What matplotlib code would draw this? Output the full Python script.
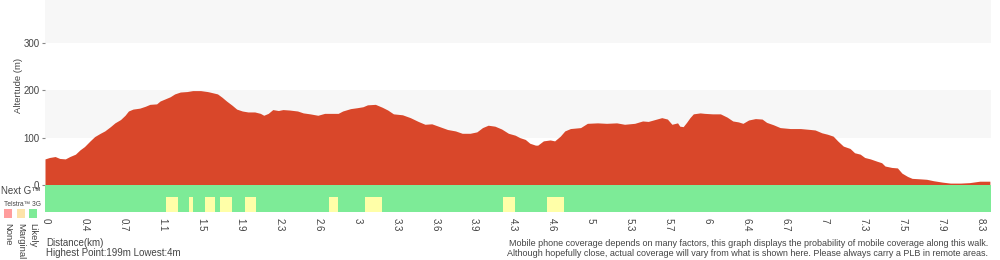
import numpy as np
import matplotlib
matplotlib.use("Agg")
import matplotlib.pyplot as plt
from matplotlib.patches import Rectangle

plt.rcParams['font.family'] = ['Liberation Sans', 'DejaVu Sans']

# ---------------- data ----------------
distance_km = [0.00, 0.04, 0.09, 0.13, 0.18, 0.22, 0.27, 0.31, 0.35, 0.40,
               0.44, 0.49, 0.53, 0.58, 0.62, 0.67, 0.71, 0.74, 0.78, 0.84,
               0.89, 0.93, 0.99, 1.02, 1.06, 1.11, 1.15, 1.20, 1.26, 1.31,
               1.38, 1.44, 1.46, 1.53, 1.57, 1.61, 1.66, 1.70, 1.75, 1.80,
               1.86, 1.91, 1.94, 1.98, 2.02, 2.07, 2.11, 2.17, 2.24, 2.29,
               2.35, 2.42, 2.48, 2.55, 2.60, 2.64, 2.71, 2.77, 2.82, 2.86,
               2.93, 2.99, 3.04, 3.09, 3.17, 3.24, 3.31, 3.37, 3.43, 3.50,
               3.57, 3.64, 3.70, 3.77, 3.83, 3.88, 3.93, 3.99, 4.05, 4.11,
               4.17, 4.21, 4.26, 4.30, 4.35, 4.37, 4.42, 4.48, 4.52, 4.57,
               4.61, 4.66, 4.75, 4.81, 4.90, 4.98, 5.07, 5.14, 5.23, 5.30,
               5.35, 5.41, 5.47, 5.52, 5.56, 5.61, 5.63, 5.66, 5.69, 5.72,
               5.75, 5.81, 5.85, 5.92, 5.99, 6.05, 6.10, 6.15, 6.19, 6.24,
               6.30, 6.36, 6.40, 6.46, 6.52, 6.61, 6.70, 6.79, 6.83, 6.89,
               6.94, 6.99, 7.03, 7.08, 7.14, 7.18, 7.23, 7.27, 7.32, 7.38,
               7.42, 7.45, 7.51, 7.56, 7.60, 7.65, 7.69, 7.76, 7.82, 7.88,
               7.96, 8.03, 8.12, 8.20, 8.29, 8.38]

elevation_m = [55, 58, 60, 56, 55, 60, 65, 74, 81, 93,
               102, 109, 114, 123, 131, 138, 147, 156, 160, 162,
               166, 170, 171, 177, 181, 186, 192, 196, 197, 199,
               199, 197, 196, 192, 185, 177, 168, 160, 156, 154,
               154, 151, 147, 151, 159, 157, 159, 158, 156, 152,
               150, 147, 151, 151, 151, 156, 161, 163, 165, 169,
               170, 164, 158, 150, 148, 142, 134, 128, 129, 123,
               117, 114, 109, 109, 112, 121, 126, 124, 118, 109,
               105, 100, 96, 88, 84, 84, 93, 95, 93, 103,
               114, 119, 121, 130, 131, 130, 131, 128, 130, 135,
               134, 138, 142, 139, 128, 131, 124, 123, 132, 142,
               150, 152, 151, 150, 150, 143, 135, 133, 130, 137,
               140, 139, 132, 127, 121, 119, 119, 117, 116, 110,
               107, 103, 93, 82, 77, 68, 65, 58, 55, 50,
               47, 40, 37, 36, 25, 18, 14, 13, 12, 9,
               6, 4, 4, 5, 8, 8]

# Telstra 3G "Marginal" stretches (start km, end km); rest is "Likely"
marginal_start_km = [1.07, 1.28, 1.42, 1.55, 1.77, 2.52, 2.84, 4.06, 4.45]
marginal_end_km   = [1.18, 1.31, 1.51, 1.66, 1.87, 2.60, 2.99, 4.17, 4.60]

tick_labels = ['0', '0.4', '0.7', '1.1', '1.5', '1.9', '2.3', '2.6', '3', '3.3',
               '3.6', '3.9', '4.3', '4.6', '5', '5.3', '5.7', '6', '6.4', '6.7',
               '7', '7.3', '7.5', '7.9', '8.3']

y_ticks = [0, 100, 200, 300]
legend_names = ['None', 'Marginal', 'Likely']
highest_m = 199
lowest_m = 4

# ---------------- style ----------------
RED = '#d9472a'
GREEN = '#7deb97'
YELLOW = '#ffffa8'
BAND = '#f7f7f7'
TXT = '#444444'
legend_colors = ['#ff9d9d', '#fde3a9', '#7deb97']
TOTAL_KM = 8.39
TICK_STEP = 0.3452
Y_TOP = 390

fig = plt.figure(figsize=(10, 2.6), dpi=100)

ax = fig.add_axes([0.045, 1 - 185 / 260, 0.946, 185 / 260])
ax.set_xlim(0, TOTAL_KM)
ax.set_ylim(0, Y_TOP)
for lo in (100, 300):
    ax.axhspan(lo, lo + 100, color=BAND, lw=0, zorder=0)
ax.fill_between(distance_km, 0, elevation_m, color=RED, lw=0, zorder=2)
for s in ax.spines.values():
    s.set_visible(False)
ax.set_xticks([])
ax.set_yticks(y_ticks)
ax.set_yticklabels([str(v) for v in y_ticks], fontsize=7, color=TXT)
ax.tick_params(axis='y', length=2, width=0.8, color='#888888', pad=2)
ax.set_ylabel('Altertude (m)', fontsize=6.8, color=TXT)
ax.yaxis.set_label_coords(-0.0235, 0.54)

# coverage strip
cx = fig.add_axes([0.045, 1 - 212 / 260, 0.946, 27 / 260])
cx.set_xlim(0, TOTAL_KM)
cx.set_ylim(0, 27)
cx.add_patch(Rectangle((0, 0), TOTAL_KM, 27, color=GREEN, lw=0))
for a, b in zip(marginal_start_km, marginal_end_km):
    cx.add_patch(Rectangle((a, 0), b - a, 15, color=YELLOW, lw=0))
for s in cx.spines.values():
    s.set_visible(False)
cx.set_yticks([])
cx.set_xticks(np.arange(len(tick_labels)) * TICK_STEP + 0.009)
cx.set_xticklabels(tick_labels, rotation=-90, fontsize=7, color=TXT, va='top')
cx.tick_params(axis='x', length=0, pad=4)

# left labels
fig.text(0.001, 1 - 191 / 260, 'Next G™', fontsize=7, color=TXT, va='center', ha='left')
fig.text(0.004, 1 - 204 / 260, 'Telstra™ 3G', fontsize=4.8, color=TXT, va='center', ha='left')
for i, (name, col) in enumerate(zip(legend_names, legend_colors)):
    x0 = 4 + i * 12.5
    fig.patches.append(Rectangle((x0 / 1000, 1 - 218 / 260), 8 / 1000, 9 / 260,
                                 transform=fig.transFigure, color=col, lw=0))
    fig.text((x0 + 4) / 1000, 1 - 223 / 260, name, fontsize=6.8, color=TXT,
             rotation=-90, ha='center', va='top')

# bottom texts
fig.text(0.046, 1 - 243 / 260, 'Distance(km)', fontsize=7, color=TXT, va='center')
fig.text(0.046, 1 - 253 / 260, f'Highest Point:{highest_m}m Lowest:{lowest_m}m',
         fontsize=7, color=TXT, va='center')
fig.text(0.988, 1 - 243 / 260,
         'Mobile phone coverage depends on many factors, this graph displays the probability of mobile coverage along this walk.',
         fontsize=6.5, color=TXT, va='center', ha='right')
fig.text(0.988, 1 - 253 / 260,
         'Although hopefully close, actual coverage will vary from what is shown here. Please always carry a PLB in remote areas.',
         fontsize=6.5, color=TXT, va='center', ha='right')

fig.savefig('out.png', dpi=100)
